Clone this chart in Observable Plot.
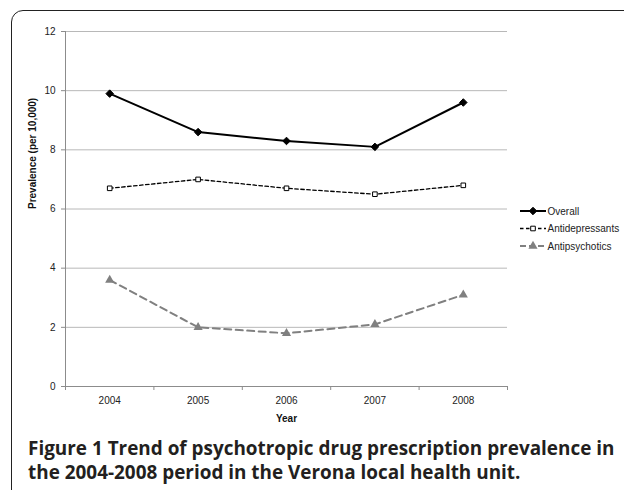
<!DOCTYPE html>
<html>
<head>
<meta charset="utf-8">
<script src="https://cdn.jsdelivr.net/npm/d3@7"></script>
<script src="https://cdn.jsdelivr.net/npm/@observablehq/plot@0.6"></script>
<style>
  html, body { margin: 0; padding: 0; background: #fff; }
  #wrap { position: relative; width: 624px; height: 490px; overflow: hidden; background: #fff; }
  #frame { position: absolute; left: 11px; top: 10px; width: 700px; height: 600px;
           border: 1.6px solid #222; border-radius: 12px; box-sizing: border-box; }
  #chart { position: absolute; left: 0; top: 0; }
  #caption { position: absolute; left: 0; top: 0; }
</style>
</head>
<body>
<div id="wrap">
  <div id="frame"></div>
  <div id="chart"></div>
  <svg id="caption" width="624" height="490"></svg>
</div>
<script>
const years = [2004, 2005, 2006, 2007, 2008];
const overall = [9.9, 8.6, 8.3, 8.1, 9.6];
const antidepressants = [6.7, 7.0, 6.7, 6.5, 6.8];
const antipsychotics = [3.6, 2.0, 1.8, 2.1, 3.1];
const seriesNames = ["Overall", "Antidepressants", "Antipsychotics"];
const yTicks = [0, 2, 4, 6, 8, 10, 12];
const yLabel = "Prevalence (per 10,000)";
const xLabel = "Year";
const captionLine1 = "Figure 1 Trend of psychotropic drug prescription prevalence in";
const captionLine2 = "the 2004-2008 period in the Verona local health unit.";

const seriesValues = [overall, antidepressants, antipsychotics];
const styles = [
  {stroke: "#000", strokeWidth: 2, dash: null, legendDash: null, symbol: "diamond2", d3sym: d3.symbolDiamond2, r: 3.4, fill: "#000", mstroke: "#000"},
  {stroke: "#000", strokeWidth: 1.3, dash: "3.5,2.5", legendDash: "3.5,2.5", symbol: "square", d3sym: d3.symbolSquare, r: 2.6, fill: "#fff", mstroke: "#000"},
  {stroke: "#808080", strokeWidth: 2, dash: "7,4.5", legendDash: "6,3", symbol: "triangle", d3sym: d3.symbolTriangle, r: 3.4, fill: "#808080", mstroke: "none"}
];

const rows = seriesNames.map((name, i) => years.map((yr, j) => ({series: name, year: yr, value: seriesValues[i][j]})));
const bounds = [years[0] - 0.5, ...years.map(y => y + 0.5)];
const axisGray = "#8c8c8c";

const marks = [
  Plot.gridY(yTicks.filter(v => v > 0), {stroke: "#b8b8b8", strokeOpacity: 1, strokeWidth: 1}),
  Plot.ruleY([0], {stroke: axisGray}),
  Plot.ruleX([bounds[0]], {stroke: axisGray}),
  Plot.axisY(yTicks, {tickSize: 4, tickPadding: 6, stroke: axisGray, fill: "#222", label: null}),
  Plot.axisX(bounds, {tickSize: 4, tickFormat: () => "", stroke: axisGray, label: null}),
  Plot.axisX(years, {tickSize: 0, tickPadding: 10, fill: "#222", tickFormat: d => String(d), label: null}),
  Plot.text([yLabel], {frameAnchor: "left", rotate: -90, dx: -33, fontWeight: "bold", fill: "#111"}),
  Plot.text([xLabel], {frameAnchor: "bottom", dy: 35, fontWeight: "bold", fill: "#111"})
];
rows.forEach((data, i) => {
  const s = styles[i];
  marks.push(Plot.line(data, {x: "year", y: "value", stroke: s.stroke, strokeWidth: s.strokeWidth, strokeDasharray: s.dash}));
  marks.push(Plot.dot(data, {x: "year", y: "value", symbol: s.symbol, r: s.r, fill: s.fill, stroke: s.mstroke, strokeWidth: 1}));
});

const plot = Plot.plot({
  width: 624,
  height: 430,
  marginLeft: 65,
  marginRight: 117,
  marginTop: 31,
  marginBottom: 44,
  style: {fontFamily: "Arial, 'Liberation Sans', sans-serif", fontSize: "10px", background: "transparent", color: "#222"},
  x: {type: "linear", domain: [bounds[0], bounds[bounds.length - 1]]},
  y: {domain: [0, 12]},
  marks
});
document.getElementById("chart").appendChild(plot);

// Legend
const svg = d3.select(plot);
const lg = svg.append("g").attr("font-family", "Arial, 'Liberation Sans', sans-serif")
  .attr("font-size", "10px").attr("text-anchor", "start");
seriesNames.forEach((name, i) => {
  const s = styles[i];
  const y = 211 + i * 17.5;
  lg.append("line").attr("x1", 520).attr("x2", 546).attr("y1", y).attr("y2", y)
    .attr("stroke", s.stroke).attr("stroke-width", s.strokeWidth)
    .attr("stroke-dasharray", s.legendDash);
  const sym = d3.symbol(s.d3sym, s.r * s.r * Math.PI)();
  lg.append("path").attr("d", sym).attr("transform", `translate(533,${y})`)
    .attr("fill", s.fill).attr("stroke", s.mstroke).attr("stroke-width", 1);
  lg.append("text").attr("x", 547.5).attr("y", y).attr("dy", "0.35em").attr("fill", "#222").text(name);
});

// Caption: fit font size so line 1 spans the reference width
const cap = d3.select("#caption");
const ff = "'Open Sans', 'Noto Sans', sans-serif";
const mk = (txt, y) => cap.append("text").attr("x", 28).attr("y", y).attr("font-family", ff)
  .attr("font-weight", "bold").attr("fill", "#231f20").attr("font-size", "19px").text(txt);
const c1 = mk(captionLine1, 455);
const c2 = mk(captionLine2, 479);
const w1 = c1.node().getComputedTextLength();
const fs = 19 * 587 / w1;
c1.attr("font-size", fs + "px");
c2.attr("font-size", fs + "px");
</script>
</body>
</html>
